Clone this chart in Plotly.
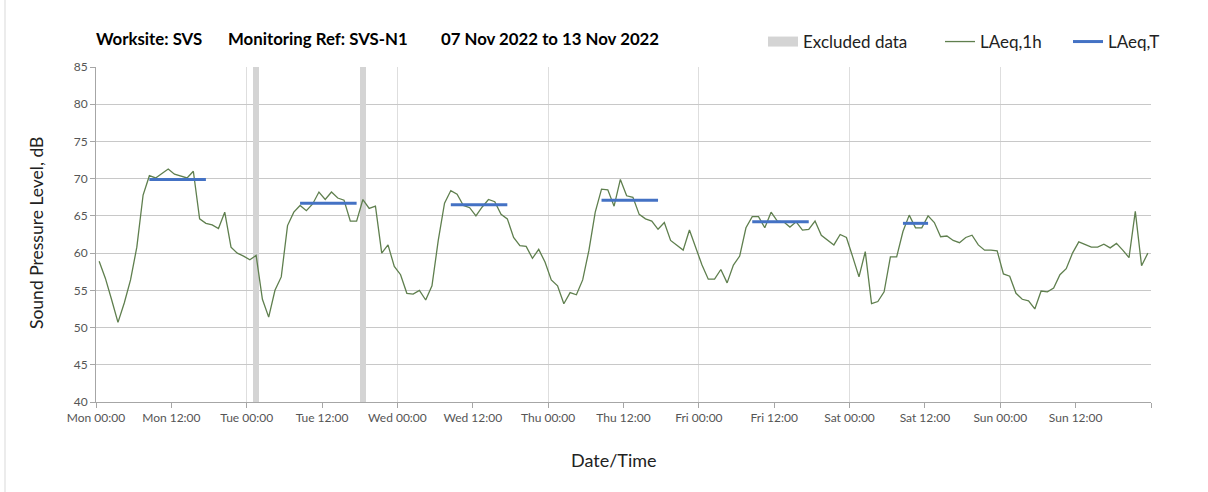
import plotly.graph_objects as go

# ---------------- data ----------------
days = ["Mon", "Tue", "Wed", "Thu", "Fri", "Sat", "Sun"]
tick_hours = list(range(0, 169, 12))
tick_labels = [f"{days[h // 24]} {h % 24:02d}:00" if h < 168 else "" for h in tick_hours]

# hourly LAeq,1h values, Mon 00:00 .. Sun 23:00 (plotted at mid-hour)
laeq_1h = [
    58.9, 56.6, 53.7, 50.7, 53.3, 56.4, 60.8, 67.8, 70.4, 70.1, 70.7, 71.3,
    70.6, 70.4, 70.1, 71.0, 64.6, 64.0, 63.8, 63.3, 65.5, 60.8, 60.0, 59.6,
    59.1, 59.7, 53.8, 51.4, 55.0, 56.8, 63.7, 65.5, 66.4, 65.7, 66.6, 68.2,
    67.2, 68.2, 67.4, 67.1, 64.3, 64.3, 67.2, 66.0, 66.3, 60.0, 61.1, 58.2,
    57.1, 54.6, 54.5, 55.0, 53.7, 55.6, 61.7, 66.7, 68.4, 67.9, 66.4, 66.1,
    65.0, 66.2, 67.2, 66.9, 65.2, 64.6, 62.1, 61.0, 60.9, 59.3, 60.5, 58.8,
    56.4, 55.6, 53.2, 54.7, 54.4, 56.4, 60.4, 65.5, 68.6, 68.5, 66.3, 69.9,
    67.7, 67.5, 65.2, 64.6, 64.3, 63.2, 64.1, 61.7, 61.1, 60.4, 63.1, 60.8,
    58.4, 56.5, 56.5, 57.8, 56.0, 58.4, 59.6, 63.4, 64.9, 64.9, 63.4, 65.5,
    64.3, 64.2, 63.5, 64.2, 63.1, 63.2, 64.3, 62.4, 61.7, 61.1, 62.5, 62.1,
    59.5, 56.8, 60.2, 53.2, 53.5, 54.8, 59.5, 59.5, 62.9, 65.1, 63.4, 63.4,
    65.0, 64.1, 62.2, 62.3, 61.7, 61.4, 62.1, 62.4, 61.1, 60.4, 60.4, 60.3,
    57.2, 56.9, 54.6, 53.8, 53.6, 52.5, 54.9, 54.8, 55.3, 57.1, 57.9, 60.0,
    61.5, 61.2, 60.8, 60.8, 61.2, 60.7, 61.3, 60.4, 59.4, 65.6, 58.3, 60.0,
]
hour_index = list(range(len(laeq_1h)))

# LAeq,T periods: first hour index, last hour index, level
period_start = [8, 32, 56, 80, 104, 128]
period_end = [17, 41, 65, 89, 113, 132]
period_level = [69.9, 66.7, 66.5, 67.1, 64.2, 64.0]

# excluded data: start hour, end hour
excluded_start = [25, 42]
excluded_end = [26, 43]

Y_MIN, Y_MAX = 40, 85

# ---------------- figure ----------------
W, H = 1208, 492
L, R, T, B = 96, 57, 67, 90
pw, ph = W - L - R, H - T - B
FONT = "Lato, 'Open Sans', sans-serif"
EXCL_COLOR = "#d4d4d4"


def xp(px):
    return (px - L) / pw


def yp(py):
    return (H - B - py) / ph


fig = go.Figure()

fig.add_trace(go.Bar(
    x=[(s + e) / 2 for s, e in zip(excluded_start, excluded_end)],
    y=[Y_MAX - Y_MIN] * len(excluded_start),
    base=[Y_MIN] * len(excluded_start),
    width=[e - s for s, e in zip(excluded_start, excluded_end)],
    marker=dict(color=EXCL_COLOR, line=dict(width=0)),
    name="Excluded data", hoverinfo="skip", showlegend=False,
))
# legend entry for the excluded-data bars (wide grey key like the original)
fig.add_trace(go.Scatter(
    x=[None], y=[None], mode="lines", line=dict(color=EXCL_COLOR, width=10),
    name="Excluded data", legend="legend",
))

fig.add_trace(go.Scatter(
    x=[i + 0.5 for i in hour_index], y=laeq_1h, mode="lines",
    line=dict(color="#5f7f4e", width=1.3), name="LAeq,1h", legend="legend2",
))

px_, py_ = [], []
for s, e, v in zip(period_start, period_end, period_level):
    px_ += [s + 0.5, e + 0.5, None]
    py_ += [v, v, None]
fig.add_trace(go.Scatter(
    x=px_, y=py_, mode="lines", line=dict(color="#4472c4", width=3),
    name="LAeq,T", legend="legend3",
))

annotations = [
    dict(text="<b>Worksite: SVS</b>", x=xp(94), y=yp(38)),
    dict(text="<b>Monitoring Ref: SVS-N1</b>", x=xp(226), y=yp(38)),
    dict(text="<b>07 Nov 2022 to 13 Nov 2022</b>", x=xp(439), y=yp(38)),
]
for a in annotations:
    a.update(xref="paper", yref="paper", xanchor="left", yanchor="middle",
             showarrow=False, font=dict(family=FONT, size=16.8, color="#000000"))
annotations.append(dict(text="Date/Time", x=xp(614), y=yp(460), xref="paper", yref="paper",
                        xanchor="center", yanchor="middle", showarrow=False,
                        font=dict(family=FONT, size=18, color="#222222")))
annotations.append(dict(text="Sound Pressure Level, dB", x=xp(36), y=yp(233), xref="paper",
                        yref="paper", xanchor="center", yanchor="middle", showarrow=False,
                        textangle=-90, font=dict(family=FONT, size=17.5, color="#222222")))

leg_common = dict(orientation="h", y=yp(42), xanchor="left", yanchor="middle",
                  font=dict(family=FONT, size=17, color="#222222"),
                  bgcolor="rgba(0,0,0,0)", borderwidth=0)

fig.update_layout(
    width=W, height=H,
    margin=dict(l=L, r=R, t=T, b=B, autoexpand=False),
    paper_bgcolor="white", plot_bgcolor="white",
    font=dict(family=FONT, size=12, color="#444444"),
    bargap=0,
    showlegend=True,
    legend=dict(x=xp(763), **leg_common),
    legend2=dict(x=xp(940), **leg_common),
    legend3=dict(x=xp(1068), **leg_common),
    annotations=annotations,
    shapes=[dict(type="line", xref="paper", yref="paper", x0=xp(5), x1=xp(5),
                 y0=yp(0), y1=yp(492), line=dict(color="#d9d9d9", width=1))],
)

fig.update_xaxes(
    range=[0, 168], tickvals=tick_hours, ticktext=tick_labels,
    ticks="outside", ticklen=5, tickcolor="#a6a6a6",
    showline=True, linecolor="#a6a6a6", linewidth=1,
    showgrid=False, zeroline=False,
    tickfont=dict(family=FONT, size=12, color="#555555"),
    minor=dict(tickvals=list(range(24, 169, 24)), showgrid=True,
               gridcolor="#dedede", gridwidth=1, ticks=""),
)
fig.update_yaxes(
    range=[Y_MIN, Y_MAX], dtick=5, tick0=40,
    ticks="outside", ticklen=5, tickcolor="#a6a6a6",
    showline=True, linecolor="#a6a6a6", linewidth=1,
    showgrid=True, gridcolor="#c8c8c8", gridwidth=1, zeroline=False,
    tickfont=dict(family=FONT, size=12, color="#555555"),
)

fig.write_html("out.html", config={"displayModeBar": False},
               post_script="document.body.style.margin='0px';")
